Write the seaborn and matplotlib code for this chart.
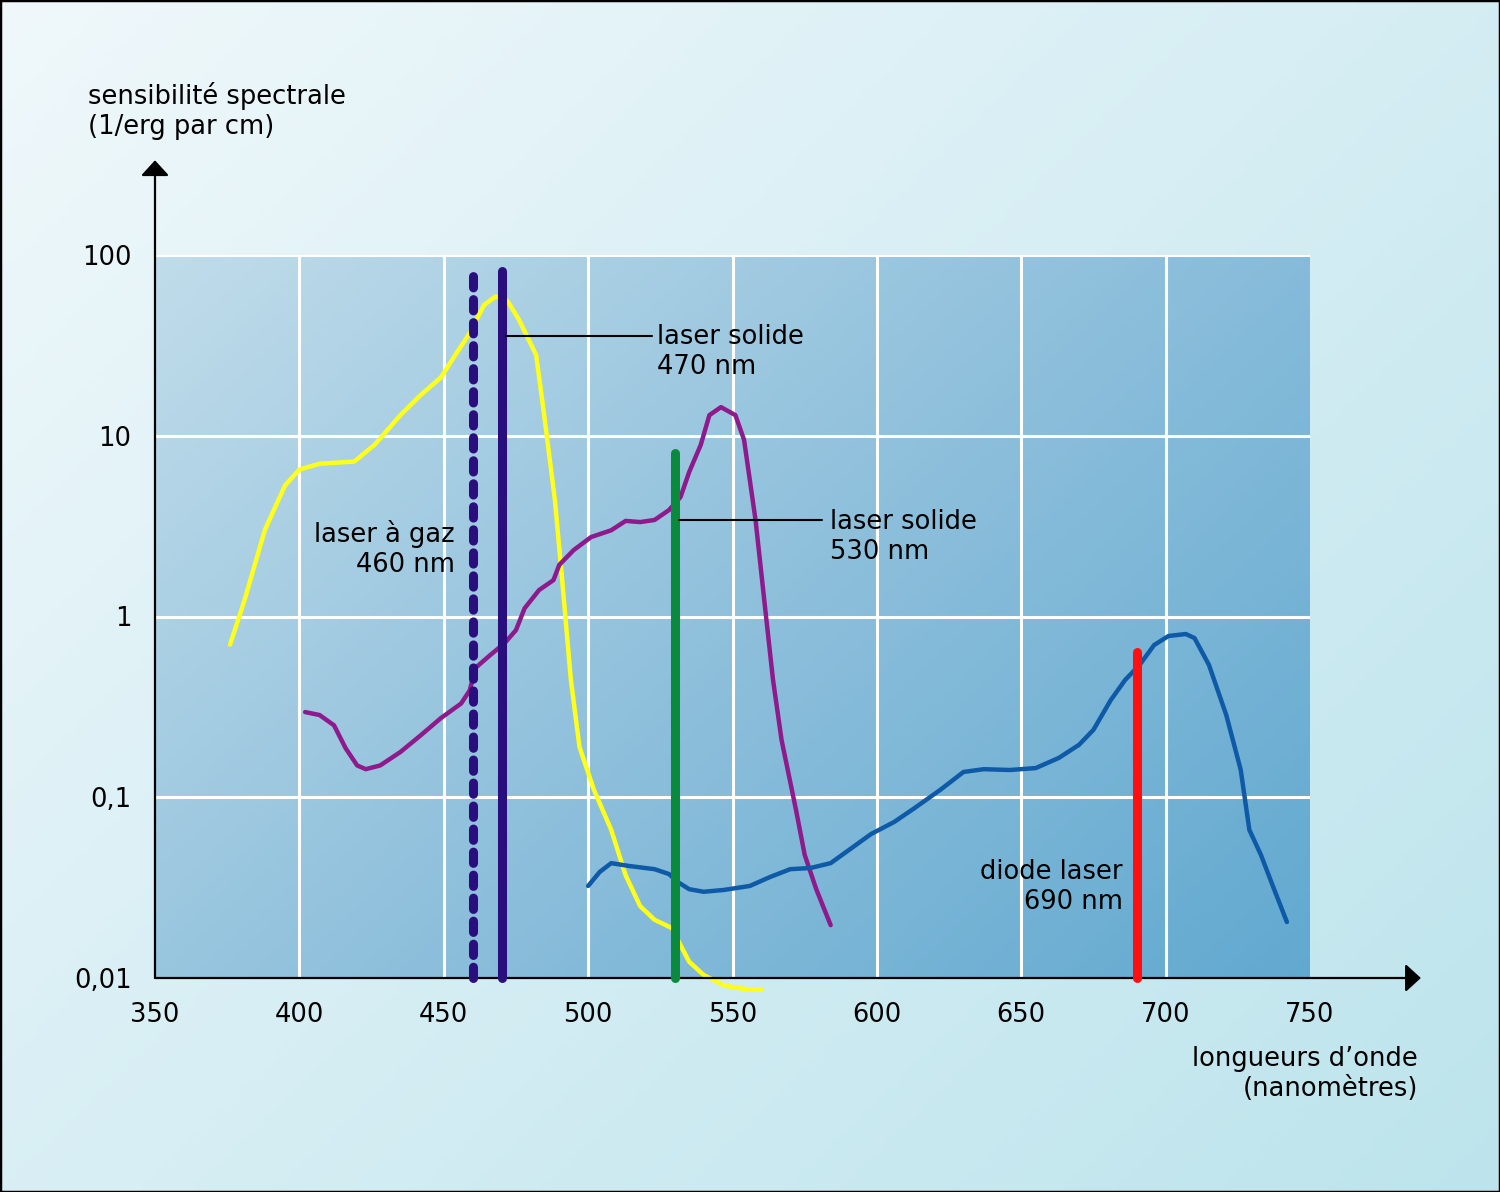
import numpy as np
import pandas as pd
import matplotlib
matplotlib.use('Agg')
import matplotlib.pyplot as plt
import seaborn as sns
from matplotlib.colors import LinearSegmentedColormap

# courbes de sensibilité spectrale
jaune_nm = [376, 381, 388, 395, 400, 407, 419, 426, 435, 442, 449, 454, 459, 464,
            468, 472, 476, 482, 485, 488.5, 491, 494, 497, 502, 508, 513, 518, 523,
            529, 532, 535, 540, 547, 554, 560]
jaune_val = [0.70, 1.23, 3.0, 5.3, 6.5, 7.0, 7.2, 8.9, 13, 16.8, 21, 28, 37, 53,
             59, 56, 44, 28, 12.2, 4.4, 1.6, 0.45, 0.19, 0.11, 0.066, 0.037, 0.025, 0.021,
             0.0189, 0.0152, 0.0123, 0.0104, 0.0091, 0.0087, 0.0086]

violet_nm = [402, 407, 412, 416, 420, 423, 428, 435, 442, 449, 456, 459, 461, 466,
             471, 475, 478, 483, 488, 490, 495, 501, 508, 513, 518, 523, 528, 532,
             535, 539, 542, 546, 551, 554, 558, 561, 564, 567, 572, 575, 579, 584]
violet_val = [0.296, 0.285, 0.25, 0.187, 0.15, 0.143, 0.15, 0.178, 0.22, 0.274, 0.33, 0.39,
              0.52, 0.61, 0.71, 0.84, 1.11, 1.40, 1.59, 1.93, 2.33, 2.75, 3.0, 3.38, 3.33,
              3.42, 3.88, 4.58, 6.3, 8.9, 13, 14.4, 13, 9.5, 3.4, 1.23, 0.45, 0.207, 0.085,
              0.048, 0.031, 0.0196]

bleu_nm = [500, 504, 508, 514, 523, 528, 531, 535, 540, 547, 556, 563, 570, 577, 584,
           591, 598, 606, 613, 622, 630, 637, 646, 655, 663, 670, 675, 681, 686, 691,
           696, 701, 707, 710, 715, 721, 726, 729, 733, 737, 742]
bleu_val = [0.0323, 0.0386, 0.0432, 0.0417, 0.040, 0.0376, 0.034, 0.031, 0.030, 0.0307,
            0.0323, 0.0362, 0.040, 0.0406, 0.0432, 0.052, 0.0626, 0.073, 0.087, 0.11, 0.138,
            0.143, 0.1415, 0.145, 0.165, 0.195, 0.236, 0.345, 0.446, 0.54, 0.695, 0.78, 0.80,
            0.76, 0.54, 0.285, 0.142, 0.066, 0.048, 0.0327, 0.0204]

# raies laser : longueur d'onde, hauteur
laser_nm = [460, 470, 530, 690]
laser_haut = [84, 82, 8.0, 0.64]
laser_couleur = ['#2a0e7e', '#2a0e7e', '#0a8a3c', '#ff1010']
laser_style = ['dash', 'solid', 'solid', 'solid']

x_ticks = [350, 400, 450, 500, 550, 600, 650, 700, 750]
y_ticks = [0.01, 0.1, 1, 10, 100]
y_labels = ['0,01', '0,1', '1', '10', '100']

sns.set_style('white')
plt.rcParams['font.family'] = ['DejaVu Sans']
plt.rcParams['text.color'] = 'black'
plt.rcParams['xtick.color'] = 'black'
plt.rcParams['ytick.color'] = 'black'
FS = 18.5

fig = plt.figure(figsize=(15, 11.92), dpi=100)

# fond dégradé de la figure
cmap_fond = LinearSegmentedColormap.from_list('fond', ['#f0f8fb', '#d6eef4', '#bde4ec'])
gx, gy = np.meshgrid(np.linspace(0, 1, 200), np.linspace(0, 1, 200))
bg = fig.add_axes([0, 0, 1, 1], zorder=-10)
bg.imshow(gx * 0.55 + gy * 0.45, cmap=cmap_fond, aspect='auto', extent=(0, 1, 0, 1), origin='upper')
bg.set_xticks([])
bg.set_yticks([])
for s in bg.spines.values():
    s.set_linewidth(2.5)
    s.set_color('black')

pos = [155 / 1500, 214 / 1192, 1155 / 1500, 723 / 1192]

# fond dégradé de la zone de tracé
cmap_zone = LinearSegmentedColormap.from_list('zone', ['#c0dcea', '#8fc0dc', '#62a9d0'])
zb = fig.add_axes(pos, zorder=-5)
zb.imshow(gx * 0.6 + gy * 0.4, cmap=cmap_zone, aspect='auto', extent=(0, 1, 0, 1), origin='upper')
zb.axis('off')

ax = fig.add_axes(pos)
ax.patch.set_alpha(0)
ax.set_yscale('log')

for nm, val, col in [(jaune_nm, jaune_val, '#ffff1a'),
                     (violet_nm, violet_val, '#8e1a8c'),
                     (bleu_nm, bleu_val, '#0e5aa7')]:
    df = pd.DataFrame({'nm': nm, 'val': val})
    sns.lineplot(data=df, x='nm', y='val', ax=ax, color=col, lw=3.2, sort=False,
                 clip_on=False, zorder=3, solid_capstyle='round', solid_joinstyle='round')

for nm, h, col, st in zip(laser_nm, laser_haut, laser_couleur, laser_style):
    ln, = ax.plot([nm, nm], [0.01, h], color=col, lw=6.5, zorder=4, clip_on=False,
                  solid_capstyle='round', dash_capstyle='round')
    if st == 'dash':
        ln.set_dashes([1.25, 1.3])

# traits de rappel et étiquettes
ax.plot([471.5, 522], [35.6, 35.6], color='black', lw=1.5, zorder=5)
ax.plot([531.5, 581], [3.42, 3.42], color='black', lw=1.5, zorder=5)
kw = dict(fontsize=FS, va='center', linespacing=1.2, zorder=6)
ax.text(523.9, 28.9, 'laser solide\n470 nm', ha='left', **kw)
ax.text(583.8, 2.77, 'laser solide\n530 nm', ha='left', **kw)
ax.text(453.9, 2.35, 'laser à gaz\n460 nm', ha='right', multialignment='right', **kw)
ax.text(685.2, 0.0317, 'diode laser\n690 nm', ha='right', multialignment='right', **kw)

ax.set_xlim(350, 750)
ax.set_ylim(0.01, 100)
ax.set_xticks(x_ticks)
ax.set_yticks(y_ticks)
ax.set_yticklabels(y_labels)
ax.minorticks_off()
ax.tick_params(axis='both', labelsize=FS, length=9, width=1.6, color='black', direction='out', pad=8)
ax.set_xlabel('')
ax.set_ylabel('')

# grille blanche
for v in [400, 450, 500, 550, 600, 650, 700]:
    ax.axvline(v, color='white', lw=2.2, zorder=1)
for v in [0.1, 1, 10, 100]:
    ax.axhline(v, color='white', lw=2.2, zorder=1)

for s in ax.spines.values():
    s.set_visible(False)

# axes fléchés
fl = dict(arrowstyle='-|>,head_length=0.47,head_width=0.43', color='black', lw=1.6,
          shrinkA=0, shrinkB=0, mutation_scale=20)
ax.annotate('', xy=(0, 1.131), xytext=(0, 0), xycoords='axes fraction', arrowprops=fl)
ax.annotate('', xy=(1.096, 0), xytext=(0, 0), xycoords='axes fraction', arrowprops=fl)

fig.text(88 / 1500, 1 - 111.5 / 1192, 'sensibilité spectrale\n(1/erg par cm)', fontsize=FS,
         ha='left', va='center', linespacing=1.2)
fig.text(1418 / 1500, 1 - 1074.5 / 1192, 'longueurs d\u2019onde\n(nanomètres)', fontsize=FS,
         ha='right', va='center', multialignment='right', linespacing=1.2)

plt.savefig('out.png', dpi=100)
plt.close()
